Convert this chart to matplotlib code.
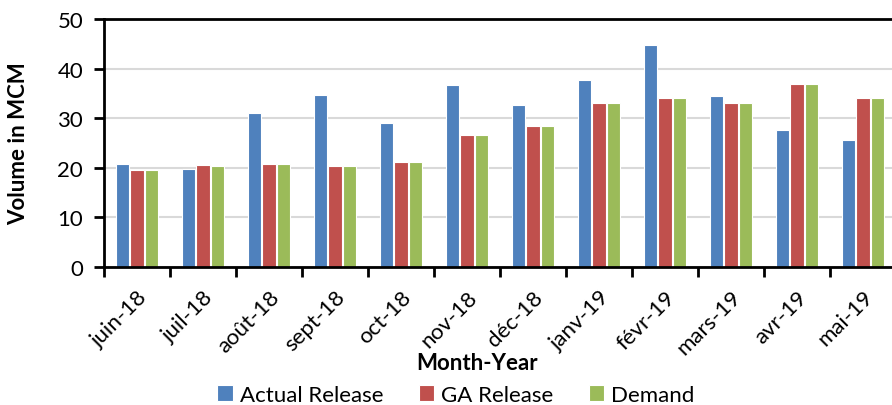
import numpy as np
import matplotlib.pyplot as plt
from matplotlib.ticker import MultipleLocator

plt.rcParams['font.family'] = ['Lato', 'DejaVu Sans']

months = ['juin-18', 'juil-18', 'août-18', 'sept-18', 'oct-18', 'nov-18',
          'déc-18', 'janv-19', 'févr-19', 'mars-19', 'avr-19', 'mai-19']
actual_release = [20.7, 19.7, 31.0, 34.7, 29.1, 36.7, 32.7, 37.8, 44.7, 34.4, 27.7, 25.7]
ga_release = [19.6, 20.5, 20.8, 20.3, 21.2, 26.6, 28.4, 33.1, 34.0, 33.0, 36.8, 34.1]
demand = [19.5, 20.4, 20.8, 20.3, 21.2, 26.6, 28.4, 33.1, 34.0, 33.0, 36.8, 34.1]

colors = ['#4F81BD', '#C0504D', '#9BBB59']

fig = plt.figure(figsize=(8.92, 4.06), dpi=100)
ax = fig.add_axes([104 / 892, 138 / 406, 792 / 892, 248 / 406])

x = np.arange(len(months))
step = 0.222
w = 0.2
series = [('Actual Release', actual_release), ('GA Release', ga_release), ('Demand', demand)]
for i, (name, vals) in enumerate(series):
    ax.bar(x + (i - 1) * step, vals, width=w, color=colors[i], edgecolor='white',
           linewidth=0.8, label=name, zorder=2)

ax.set_xlim(-0.5, len(months) - 0.5)
ax.set_ylim(0, 50)
ax.yaxis.set_major_locator(MultipleLocator(10))
ax.grid(axis='y', color='#d9d9d9', linewidth=1.5, zorder=0)
ax.set_axisbelow(True)

# ticks between the groups, labels under the groups
ax.set_xticks(np.arange(-0.5, len(months), 1))
ax.set_xticklabels([])
ax.set_xticks(x, minor=True)
ax.set_xticklabels(months, minor=True, rotation=45, ha='right',
                   rotation_mode='anchor', fontsize=16)
ax.tick_params(axis='x', which='minor', length=0, pad=14)
ax.tick_params(axis='x', which='major', length=7, width=2, direction='out')
ax.tick_params(axis='y', length=7, width=2, direction='out', labelsize=16, pad=8)

for s in ['left', 'bottom', 'top']:
    ax.spines[s].set_linewidth(2)
    ax.spines[s].set_color('black')
    ax.spines[s].set_zorder(3)
ax.spines['right'].set_visible(False)

ax.set_ylabel('Volume in MCM', fontsize=16, fontweight='bold')
ax.yaxis.set_label_coords(-0.108, 0.5)
ax.yaxis.label.set_va('center')
ax.set_xlabel('Month-Year', fontsize=16, fontweight='bold')
ax.xaxis.set_label_coords(0.471, -0.385)
ax.xaxis.label.set_va('center')

handles, labels = ax.get_legend_handles_labels()
fig.legend(handles, labels, loc='center', bbox_to_anchor=(0.511, 0.025), ncol=3,
           frameon=False, fontsize=16, handlelength=0.7, handleheight=0.7,
           handletextpad=0.3, columnspacing=1.6)

plt.savefig('out.png', dpi=100)
